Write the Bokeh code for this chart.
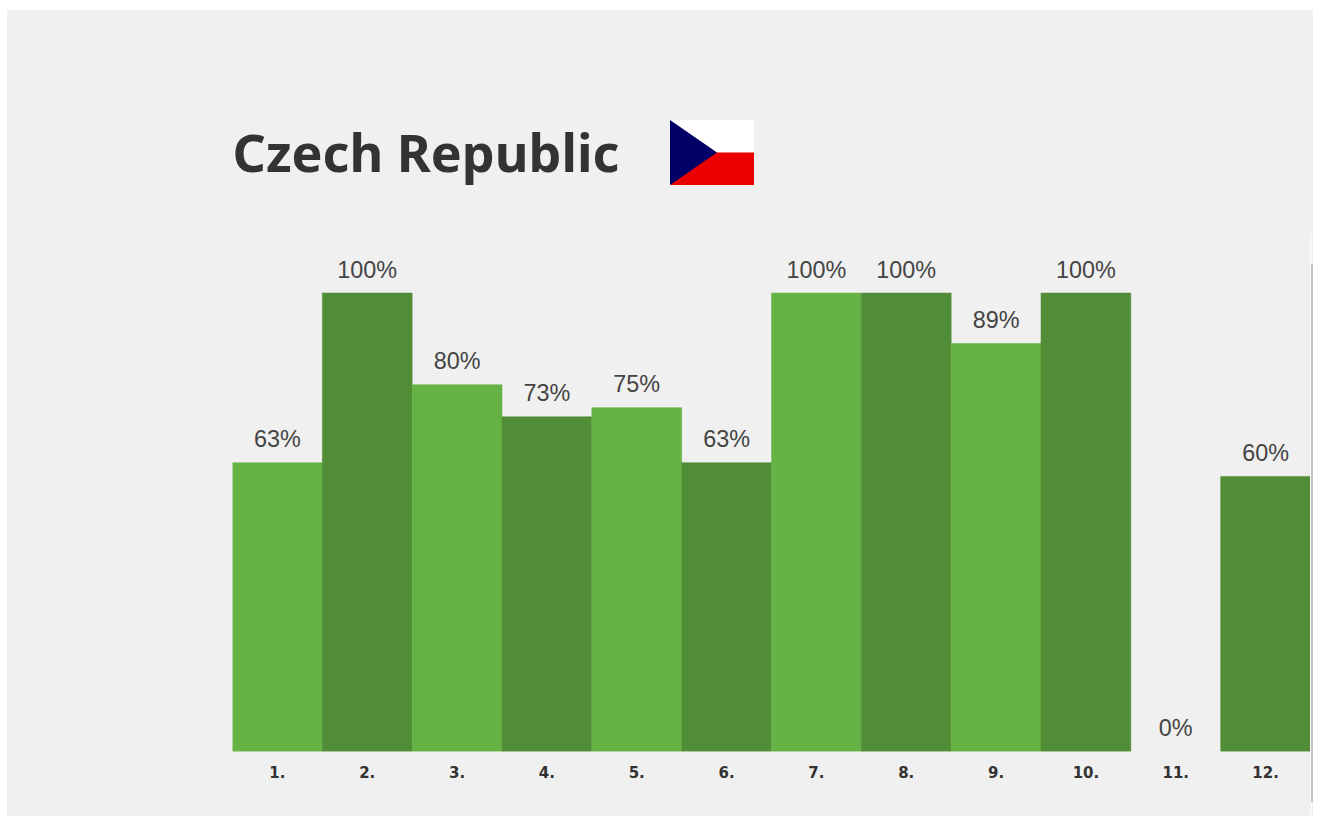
from bokeh.plotting import figure
from bokeh.models import ColumnDataSource, Range1d, FactorRange, Label, PolyAnnotation, BoxAnnotation, InlineStyleSheet
from bokeh.core.properties import value
from bokeh.embed import file_html
from bokeh.resources import INLINE

categories = ["1.", "2.", "3.", "4.", "5.", "6.", "7.", "8.", "9.", "10.", "11.", "12."]
values = [63, 100, 80, 73, 75, 63, 100, 100, 89, 100, 0, 60]
colors = ["#65B245", "#518C36"] * 6
labels = ["63%", "100%", "80%", "73%", "75%", "63%", "100%", "100%", "89%", "100%", "0%", "60%"]
title_text = "Czech Republic"

BG = "#F0F0F0"
W, H = 1306, 806
LEFT, RIGHT_PAD, BOTTOM = 225, 3, 65
frame_h = H - BOTTOM
px_per_pct = 4.585

src = ColumnDataSource(dict(cat=categories, val=values, col=colors, lab=labels,
                            edge=[1 if v > 0 else 0 for v in values]))

css = InlineStyleSheet(css=f"""
:host {{ background: {BG}; }}
:host::before {{ content: ''; position: absolute; left: 1303px; top: 223px; width: 2px; height: 583px;
                 background: #F8F8F8; z-index: 5; }}
:host::after {{ content: ''; position: absolute; left: 1304px; top: 254px; width: 1.5px; height: 538px;
                background: #C4C4C4; z-index: 6; }}
""")

p = figure(width=W, height=H, x_range=FactorRange(*categories, range_padding=0, factor_padding=0),
           y_range=Range1d(0, frame_h / px_per_pct), output_backend="svg", toolbar_location=None,
           min_border_left=LEFT, min_border_right=RIGHT_PAD, min_border_top=0, min_border_bottom=BOTTOM,
           background_fill_color=None, border_fill_color=None, outline_line_color=None,
           margin=(10, 0, 0, 7), stylesheets=[css])

p.vbar(x="cat", top="val", width=1.0, bottom=0, fill_color="col", line_color="col", line_alpha="edge",
       line_width=0.5, source=src)
p.text(x="cat", y="val", text="lab", source=src, text_align="center", text_baseline="alphabetic",
       y_offset=-23.5, text_font=value("Liberation Sans"), text_font_size="23.4px", text_color="#444444")

p.grid.visible = False
p.yaxis.visible = False
ax = p.xaxis[0]
ax.axis_line_color = None
ax.major_tick_line_color = None
ax.minor_tick_line_color = None
ax.major_label_standoff = 8
ax.major_label_text_font = "DejaVu Sans"
ax.major_label_text_font_style = "bold"
ax.major_label_text_font_size = "15px"
ax.major_label_text_color = "#333333"

def sx(v): return v - 232
def sy(v): return 751 - v

p.add_layout(Label(x=sx(232), y=sy(174) + 23, x_units="screen", y_units="screen", text=title_text,
                   text_font="Noto Sans", text_font_style="bold", text_font_size="52px",
                   text_color="#333333", text_baseline="alphabetic"))

def box(l, r, t, b, c):
    p.add_layout(BoxAnnotation(left=sx(l), right=sx(r), top=sy(t), bottom=sy(b), left_units="screen",
                               right_units="screen", top_units="screen", bottom_units="screen",
                               fill_color=c, fill_alpha=1, line_color=None, level="annotation"))

box(670, 753.5, 119.5, 152, "#FFFFFF")
box(670, 753.5, 152, 184.5, "#EB0000")
p.add_layout(PolyAnnotation(xs=[sx(669.5), sx(716.5), sx(669.5)], ys=[sy(119.5), sy(152), sy(184.5)],
                            xs_units="screen", ys_units="screen", fill_color="#000066", fill_alpha=1,
                            line_color=None))

open("out.html", "w").write(file_html(p, INLINE))
